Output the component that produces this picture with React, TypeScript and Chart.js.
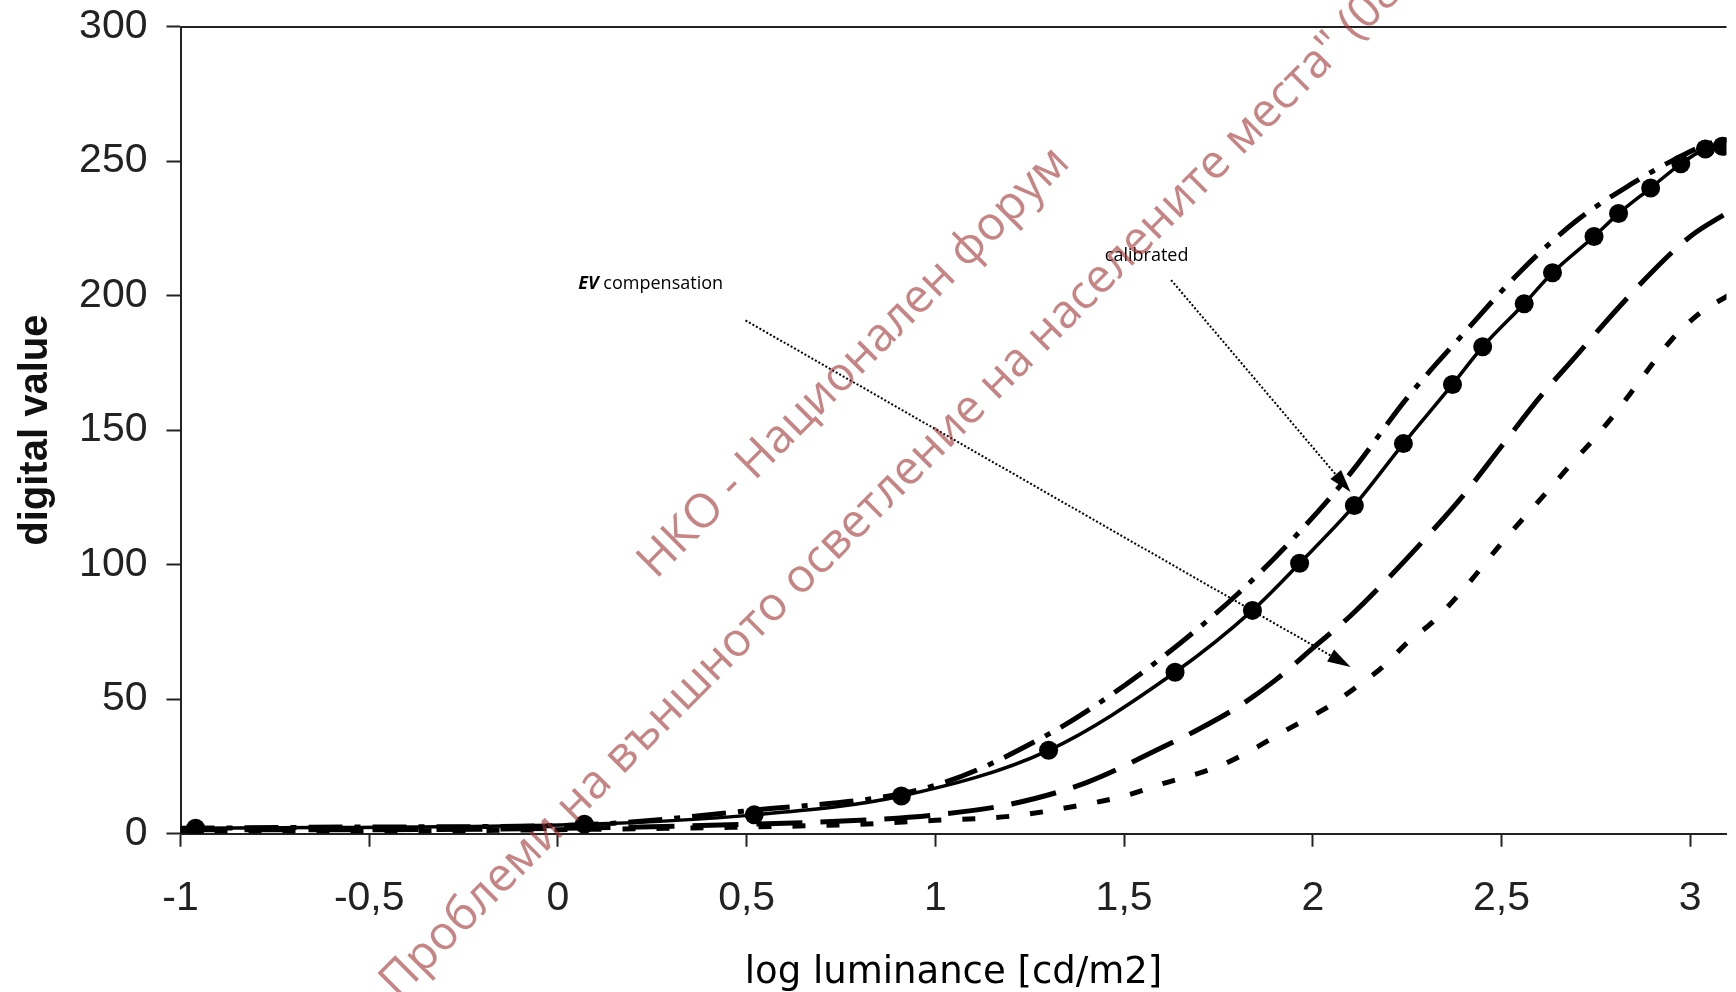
import React, { useEffect, useRef } from 'react';
import { Chart, registerables } from 'chart.js';

Chart.register(...registerables);

// ---- data ----
const calibratedX = [-0.96, 0.07, 0.52, 0.91, 1.3, 1.635, 1.84, 1.965, 2.11, 2.24, 2.37, 2.45, 2.56, 2.635, 2.745, 2.81, 2.895, 2.975, 3.04, 3.085];
const calibratedY = [2, 3.5, 7, 14, 31, 60, 83, 100.5, 122, 145, 167, 181, 197, 208.5, 222, 230.5, 240, 249, 254.5, 255.5];

const dashDotX = [-1, -0.5, 0, 0.5, 1.0, 1.3, 1.5, 1.65, 1.8, 1.95, 2.1, 2.25, 2.4, 2.55, 2.7, 2.85, 2.95, 3.05, 3.1];
const dashDotY = [2, 2.5, 3, 8.5, 18, 37, 55, 71, 89, 110, 134, 162, 186, 209, 228, 242, 250, 256.5, 258];

const longDashX = [-1, -0.5, 0, 0.5, 0.8, 1.0, 1.2, 1.4, 1.6, 1.7, 1.8, 1.9, 2.0, 2.1, 2.2, 2.3, 2.4, 2.5, 2.6, 2.7, 2.8, 2.9, 3.0, 3.1];
const longDashY = [1.5, 1.5, 2, 3.5, 5, 7, 11, 19, 32, 39, 47, 57, 69, 81, 95, 110, 126, 144, 162, 178, 194, 209, 222, 231];

const shortDashX = [-1, -0.5, 0, 0.5, 0.8, 1.0, 1.2, 1.4, 1.5, 1.6, 1.75, 1.85, 1.915, 1.97, 2.05, 2.11, 2.19, 2.25, 2.32, 2.4, 2.5, 2.62, 2.685, 2.74, 2.8, 2.875, 2.95, 3.03, 3.1];
const shortDashY = [1, 1, 1.5, 2.5, 3.5, 5, 6.5, 11, 14, 18.5, 25, 32, 37.4, 41.6, 48, 54, 62.6, 71, 79, 91, 108, 127, 137.5, 146, 156, 170, 183.5, 194, 200];

const xTickLabels = ['-1', '-0,5', '0', '0,5', '1', '1,5', '2', '2,5', '3'];
const yTickLabels = ['0', '50', '100', '150', '200', '250', '300'];

const xTitle = 'log luminance [cd/m2]';
const yTitle = 'digital value';

// annotation anchors in data units
const evLabelPos = [0.054, 202.5];
const calLabelPos = [1.449, 212.9];
const calArrow = [1.6246, 205.8, 2.1, 127.0];
const evArrow = [0.497, 190.8, 2.1, 62.0];

const watermark1 = 'НКО - Национален форум';
const watermark2 = 'Проблеми на външното осветление на населените места" (08.0';

const toPts = (xs: number[], ys: number[]) => xs.map((x, i) => ({ x, y: ys[i] }));

function drawArrow(ctx: CanvasRenderingContext2D, x1: number, y1: number, x2: number, y2: number) {
  const ang = Math.atan2(y2 - y1, x2 - x1);
  const headLen = 23;
  const headHalf = 7;
  const bx = x2 - headLen * Math.cos(ang);
  const by = y2 - headLen * Math.sin(ang);
  ctx.save();
  ctx.strokeStyle = '#000';
  ctx.lineWidth = 2;
  ctx.setLineDash([2, 2]);
  ctx.beginPath();
  ctx.moveTo(x1, y1);
  ctx.lineTo(bx, by);
  ctx.stroke();
  ctx.setLineDash([]);
  ctx.fillStyle = '#000';
  ctx.beginPath();
  ctx.moveTo(x2, y2);
  ctx.lineTo(bx + headHalf * Math.sin(ang), by - headHalf * Math.cos(ang));
  ctx.lineTo(bx - headHalf * Math.sin(ang), by + headHalf * Math.cos(ang));
  ctx.closePath();
  ctx.fill();
  ctx.restore();
}

const overlayPlugin = {
  id: 'overlay',
  afterDraw(chart: any) {
    const { ctx, chartArea, scales } = chart;
    const xs = scales.x;
    const ys = scales.y;
    ctx.save();
    // top frame line
    ctx.strokeStyle = '#222';
    ctx.lineWidth = 2;
    ctx.beginPath();
    ctx.moveTo(chartArea.left, Math.round(chartArea.top));
    ctx.lineTo(chartArea.right, Math.round(chartArea.top));
    ctx.stroke();

    // labels
    ctx.fillStyle = '#000';
    ctx.textAlign = 'left';
    ctx.textBaseline = 'alphabetic';
    const ex = xs.getPixelForValue(evLabelPos[0]);
    const ey = ys.getPixelForValue(evLabelPos[1]);
    ctx.font = 'italic bold 18px "Open Sans"';
    ctx.fillText('EV', ex, ey);
    const w = ctx.measureText('EV').width;
    ctx.font = '18px "Open Sans"';
    ctx.fillText(' compensation', ex + w, ey);
    ctx.fillText('calibrated', xs.getPixelForValue(calLabelPos[0]), ys.getPixelForValue(calLabelPos[1]));

    drawArrow(ctx, xs.getPixelForValue(calArrow[0]), ys.getPixelForValue(calArrow[1]), xs.getPixelForValue(calArrow[2]), ys.getPixelForValue(calArrow[3]));
    drawArrow(ctx, xs.getPixelForValue(evArrow[0]), ys.getPixelForValue(evArrow[1]), xs.getPixelForValue(evArrow[2]), ys.getPixelForValue(evArrow[3]));

    // watermark
    ctx.fillStyle = 'rgba(160,50,50,0.6)';
    ctx.font = '47px "Open Sans"';
    ctx.save();
    ctx.translate(656, 580);
    ctx.rotate(-Math.PI / 4);
    ctx.fillText(watermark1, 0, 0);
    ctx.restore();
    ctx.save();
    ctx.translate(398, 1000);
    ctx.rotate(-Math.PI / 4);
    ctx.fillText(watermark2, 0, 0);
    ctx.restore();
    ctx.restore();
  },
};

export default function App() {
  const ref = useRef<HTMLCanvasElement | null>(null);

  useEffect(() => {
    if (!ref.current) return;
    const tickFont = { family: '"Liberation Sans", Arial, sans-serif', size: 41 };
    const chart = new Chart(ref.current, {
      type: 'scatter',
      data: {
        datasets: [
          {
            label: 'calibrated',
            data: toPts(calibratedX, calibratedY),
            showLine: true,
            borderColor: '#000',
            backgroundColor: '#000',
            borderWidth: 3.5,
            pointRadius: 9.5,
            pointBorderWidth: 0,
            pointBackgroundColor: '#000',
            cubicInterpolationMode: 'monotone',
          },
          {
            label: 'EV dash-dot',
            data: toPts(dashDotX, dashDotY),
            showLine: true,
            borderColor: '#000',
            borderWidth: 5,
            borderDash: [34, 12, 6, 12],
            pointRadius: 0,
            cubicInterpolationMode: 'monotone',
          },
          {
            label: 'EV long dash',
            data: toPts(longDashX, longDashY),
            showLine: true,
            borderColor: '#000',
            borderWidth: 5,
            borderDash: [46, 18],
            pointRadius: 0,
            cubicInterpolationMode: 'monotone',
          },
          {
            label: 'EV short dash',
            data: toPts(shortDashX, shortDashY),
            showLine: true,
            borderColor: '#000',
            borderWidth: 5,
            borderDash: [13, 21],
            pointRadius: 0,
            cubicInterpolationMode: 'monotone',
          },
        ],
      },
      options: {
        animation: false,
        responsive: false,
        events: [],
        layout: { padding: { top: 26.6, right: 0, left: 0, bottom: 0 } },
        plugins: { legend: { display: false }, tooltip: { enabled: false } },
        scales: {
          x: {
            type: 'linear',
            position: 'bottom',
            min: -1,
            max: 3.096,
            ticks: {
              stepSize: 0.5,
              includeBounds: false,
              autoSkip: false,
              maxRotation: 0,
              padding: 27,
              color: '#222',
              font: tickFont,
              callback: (_v: any, i: number) => xTickLabels[i],
            },
            grid: { drawOnChartArea: false, drawTicks: true, tickLength: 13, tickWidth: 2, tickColor: '#222' },
            border: { display: true, color: '#222', width: 2 },
            title: {
              display: true,
              text: xTitle,
              color: '#000',
              font: { family: '"DejaVu Sans", sans-serif', size: 37, lineHeight: 1 },
              padding: { top: 0, bottom: 0 },
            },
            afterFit: (s: any) => { s.height = 158.3; s.paddingLeft = 0; s.paddingRight = 0; },
          },
          y: {
            type: 'linear',
            min: 0,
            max: 300,
            ticks: {
              stepSize: 50,
              padding: 19,
              color: '#222',
              font: tickFont,
              callback: (_v: any, i: number) => yTickLabels[i],
            },
            grid: { drawOnChartArea: false, drawTicks: true, tickLength: 14, tickWidth: 2, tickColor: '#222' },
            border: { display: true, color: '#222', width: 2 },
            title: {
              display: true,
              text: yTitle,
              color: '#111',
              font: { family: '"Liberation Sans", Arial, sans-serif', size: 40, weight: 'bold' },
              padding: { top: 12, bottom: 0 },
            },
            afterFit: (s: any) => { s.width = 180.5; s.paddingTop = 0; s.paddingBottom = 0; },
          },
        },
      },
      plugins: [overlayPlugin],
    } as any);
    return () => chart.destroy();
  }, []);

  return (
    <div style={{ position: 'fixed', left: 0, top: 0, width: 1736, height: 992, background: '#fff', overflow: 'hidden' }}>
      <canvas ref={ref} width={1736} height={992} style={{ display: 'block' }} />
    </div>
  );
}
